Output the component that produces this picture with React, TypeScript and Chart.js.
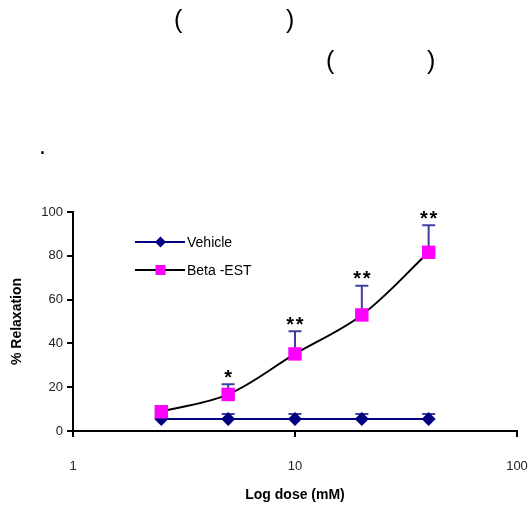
import React, { useEffect, useRef } from 'react';
import { Chart, registerables } from 'chart.js';

Chart.register(...registerables);

const doses = [2.5, 5, 10, 20, 40];
const vehicle = [5.5, 5.5, 5.5, 5.5, 5.5];
const vehicleErr = [2.3, 2.3, 2.3, 2.3, 2.3];
const betaEst = [8.8, 16.7, 35.2, 53, 81.6];
const betaErr = [0.5, 4.6, 10.3, 13.3, 12.3];
const significance = ['', '*', '**', '**', '**'];
const xTicks = [1, 10, 100];
const yTicks = [0, 20, 40, 60, 80, 100];
const seriesNames = ['Vehicle', 'Beta -EST'];
const xTitle = 'Log dose (mM)';
const yTitle = '% Relaxation';

const FONT = "'Liberation Sans', Arial, Helvetica, sans-serif";
const NAVY = '#000080';
const MAGENTA = '#ff00ff';
const ERR = '#3f3f9f';

const errorBarPlugin = {
  id: 'errorBars',
  beforeDatasetsDraw(chart: any) {
    const { ctx, scales } = chart;
    const x = scales.x;
    const y = scales.y;
    const sets = [
      { vals: vehicle, errs: vehicleErr },
      { vals: betaEst, errs: betaErr },
    ];
    ctx.save();
    ctx.strokeStyle = ERR;
    ctx.lineWidth = 2;
    sets.forEach((s) => {
      s.vals.forEach((v, i) => {
        const px = x.getPixelForValue(doses[i]);
        const py0 = y.getPixelForValue(v);
        const py1 = y.getPixelForValue(v + s.errs[i]);
        ctx.beginPath();
        ctx.moveTo(px, py0);
        ctx.lineTo(px, py1);
        ctx.moveTo(px - 6.5, py1);
        ctx.lineTo(px + 6.5, py1);
        ctx.stroke();
      });
    });
    ctx.restore();
  },
  afterDatasetsDraw(chart: any) {
    const { ctx, scales } = chart;
    const x = scales.x;
    const y = scales.y;
    ctx.save();
    ctx.fillStyle = '#000';
    ctx.font = `bold 20px ${FONT}`;
    ctx.textAlign = 'center';
    ctx.textBaseline = 'alphabetic';
    significance.forEach((s, i) => {
      if (!s) return;
      const px = x.getPixelForValue(doses[i]);
      const py = y.getPixelForValue(betaEst[i] + betaErr[i]) - 0.5;
      const n = s.length;
      for (let k = 0; k < n; k++) {
        const off = (k - (n - 1) / 2) * 9.5;
        ctx.fillText('*', px + off, py);
      }
    });
    ctx.restore();
  },
};

const legendPlugin = {
  id: 'customLegend',
  afterDraw(chart: any) {
    const { ctx, chartArea } = chart;
    const x0 = chartArea.left + 62;
    const x1 = chartArea.left + 112;
    const xm = chartArea.left + 87.5;
    const rows = [
      { y: chartArea.top + 30, line: NAVY, marker: 'diamond', color: NAVY, label: seriesNames[0] },
      { y: chartArea.top + 58, line: '#000', marker: 'square', color: MAGENTA, label: seriesNames[1] },
    ];
    ctx.save();
    rows.forEach((r) => {
      ctx.strokeStyle = r.line;
      ctx.lineWidth = 2;
      ctx.beginPath();
      ctx.moveTo(x0, r.y);
      ctx.lineTo(x1, r.y);
      ctx.stroke();
      ctx.fillStyle = r.color;
      ctx.beginPath();
      if (r.marker === 'diamond') {
        ctx.moveTo(xm, r.y - 5.5);
        ctx.lineTo(xm + 5.5, r.y);
        ctx.lineTo(xm, r.y + 5.5);
        ctx.lineTo(xm - 5.5, r.y);
        ctx.closePath();
      } else {
        ctx.rect(xm - 5, r.y - 5, 10, 10);
      }
      ctx.fill();
      ctx.fillStyle = '#000';
      ctx.font = `14px ${FONT}`;
      ctx.textAlign = 'left';
      ctx.textBaseline = 'middle';
      ctx.fillText(r.label, x1 + 2, r.y + 1);
    });
    ctx.restore();
  },
};

export default function App() {
  const ref = useRef<HTMLCanvasElement | null>(null);

  useEffect(() => {
    const canvas = ref.current;
    if (!canvas) return;
    const chart = new Chart(canvas, {
      type: 'line',
      data: {
        datasets: [
          {
            label: seriesNames[0],
            data: doses.map((d, i) => ({ x: d, y: vehicle[i] })),
            borderColor: NAVY,
            backgroundColor: NAVY,
            borderWidth: 2,
            pointStyle: 'rectRot',
            pointRadius: 7,
            pointBackgroundColor: NAVY,
            pointBorderWidth: 0,
            tension: 0,
            order: 1,
          },
          {
            label: seriesNames[1],
            data: doses.map((d, i) => ({ x: d, y: betaEst[i] })),
            borderColor: '#000',
            backgroundColor: MAGENTA,
            borderWidth: 2,
            pointStyle: 'rect',
            pointRadius: 9.5,
            pointBackgroundColor: MAGENTA,
            pointBorderWidth: 0,
            tension: 0.35,
            order: 0,
          },
        ],
      },
      options: {
        responsive: false,
        animation: false,
        layout: { padding: { top: 212, right: 13, left: 0, bottom: 0 } },
        plugins: {
          legend: { display: false },
          tooltip: { enabled: false },
        },
        scales: {
          x: {
            type: 'logarithmic',
            min: 1,
            max: 100,
            afterBuildTicks: (scale: any) => {
              scale.ticks = xTicks.map((v) => ({ value: v }));
            },
            afterFit: (scale: any) => {
              scale.height = 81;
              scale.paddingRight = 0;
              scale.paddingLeft = 0;
            },
            ticks: {
              callback: (v: any) => String(v),
              color: '#222',
              font: { family: FONT, size: 13 },
              padding: 22,
              maxRotation: 0,
              autoSkip: false,
            },
            grid: {
              drawOnChartArea: false,
              drawTicks: true,
              tickLength: 6,
              color: '#000',
              lineWidth: 2,
            },
            border: { display: true, color: '#000', width: 2 },
            title: {
              display: true,
              text: xTitle,
              color: '#000',
              font: { family: FONT, size: 14, weight: 'bold' },
              padding: { top: 0, bottom: 8 },
            },
          },
          y: {
            type: 'linear',
            min: 0,
            max: 100,
            afterBuildTicks: (scale: any) => {
              scale.ticks = yTicks.map((v) => ({ value: v }));
            },
            afterFit: (scale: any) => {
              scale.width = 73;
              scale.paddingTop = 0;
              scale.paddingBottom = 0;
            },
            ticks: {
              color: '#222',
              font: { family: FONT, size: 13 },
              padding: 4,
            },
            grid: {
              drawOnChartArea: false,
              drawTicks: true,
              tickLength: 6,
              color: '#000',
              lineWidth: 2,
            },
            border: { display: true, color: '#000', width: 2 },
            title: {
              display: true,
              text: yTitle,
              color: '#000',
              font: { family: FONT, size: 14, weight: 'bold' },
              padding: { top: 9, bottom: 0 },
            },
          },
        },
      },
      plugins: [errorBarPlugin, legendPlugin],
    } as any);
    return () => chart.destroy();
  }, []);

  const txt: React.CSSProperties = {
    position: 'absolute',
    fontFamily: FONT,
    fontSize: 25,
    lineHeight: '25px',
    color: '#000',
    whiteSpace: 'pre',
  };

  return (
    <div style={{ position: 'fixed', left: 0, top: 0, width: 530, height: 512, background: '#fff' }}>
      <canvas ref={ref} width={530} height={512} style={{ position: 'absolute', left: 0, top: 0 }} />
      <div style={{ ...txt, left: 174, top: 7 }}>(</div>
      <div style={{ ...txt, left: 286, top: 7 }}>)</div>
      <div style={{ ...txt, left: 326, top: 48 }}>(</div>
      <div style={{ ...txt, left: 427, top: 48 }}>)</div>
      <div style={{ ...txt, left: 39, top: 133 }}>.</div>
    </div>
  );
}
